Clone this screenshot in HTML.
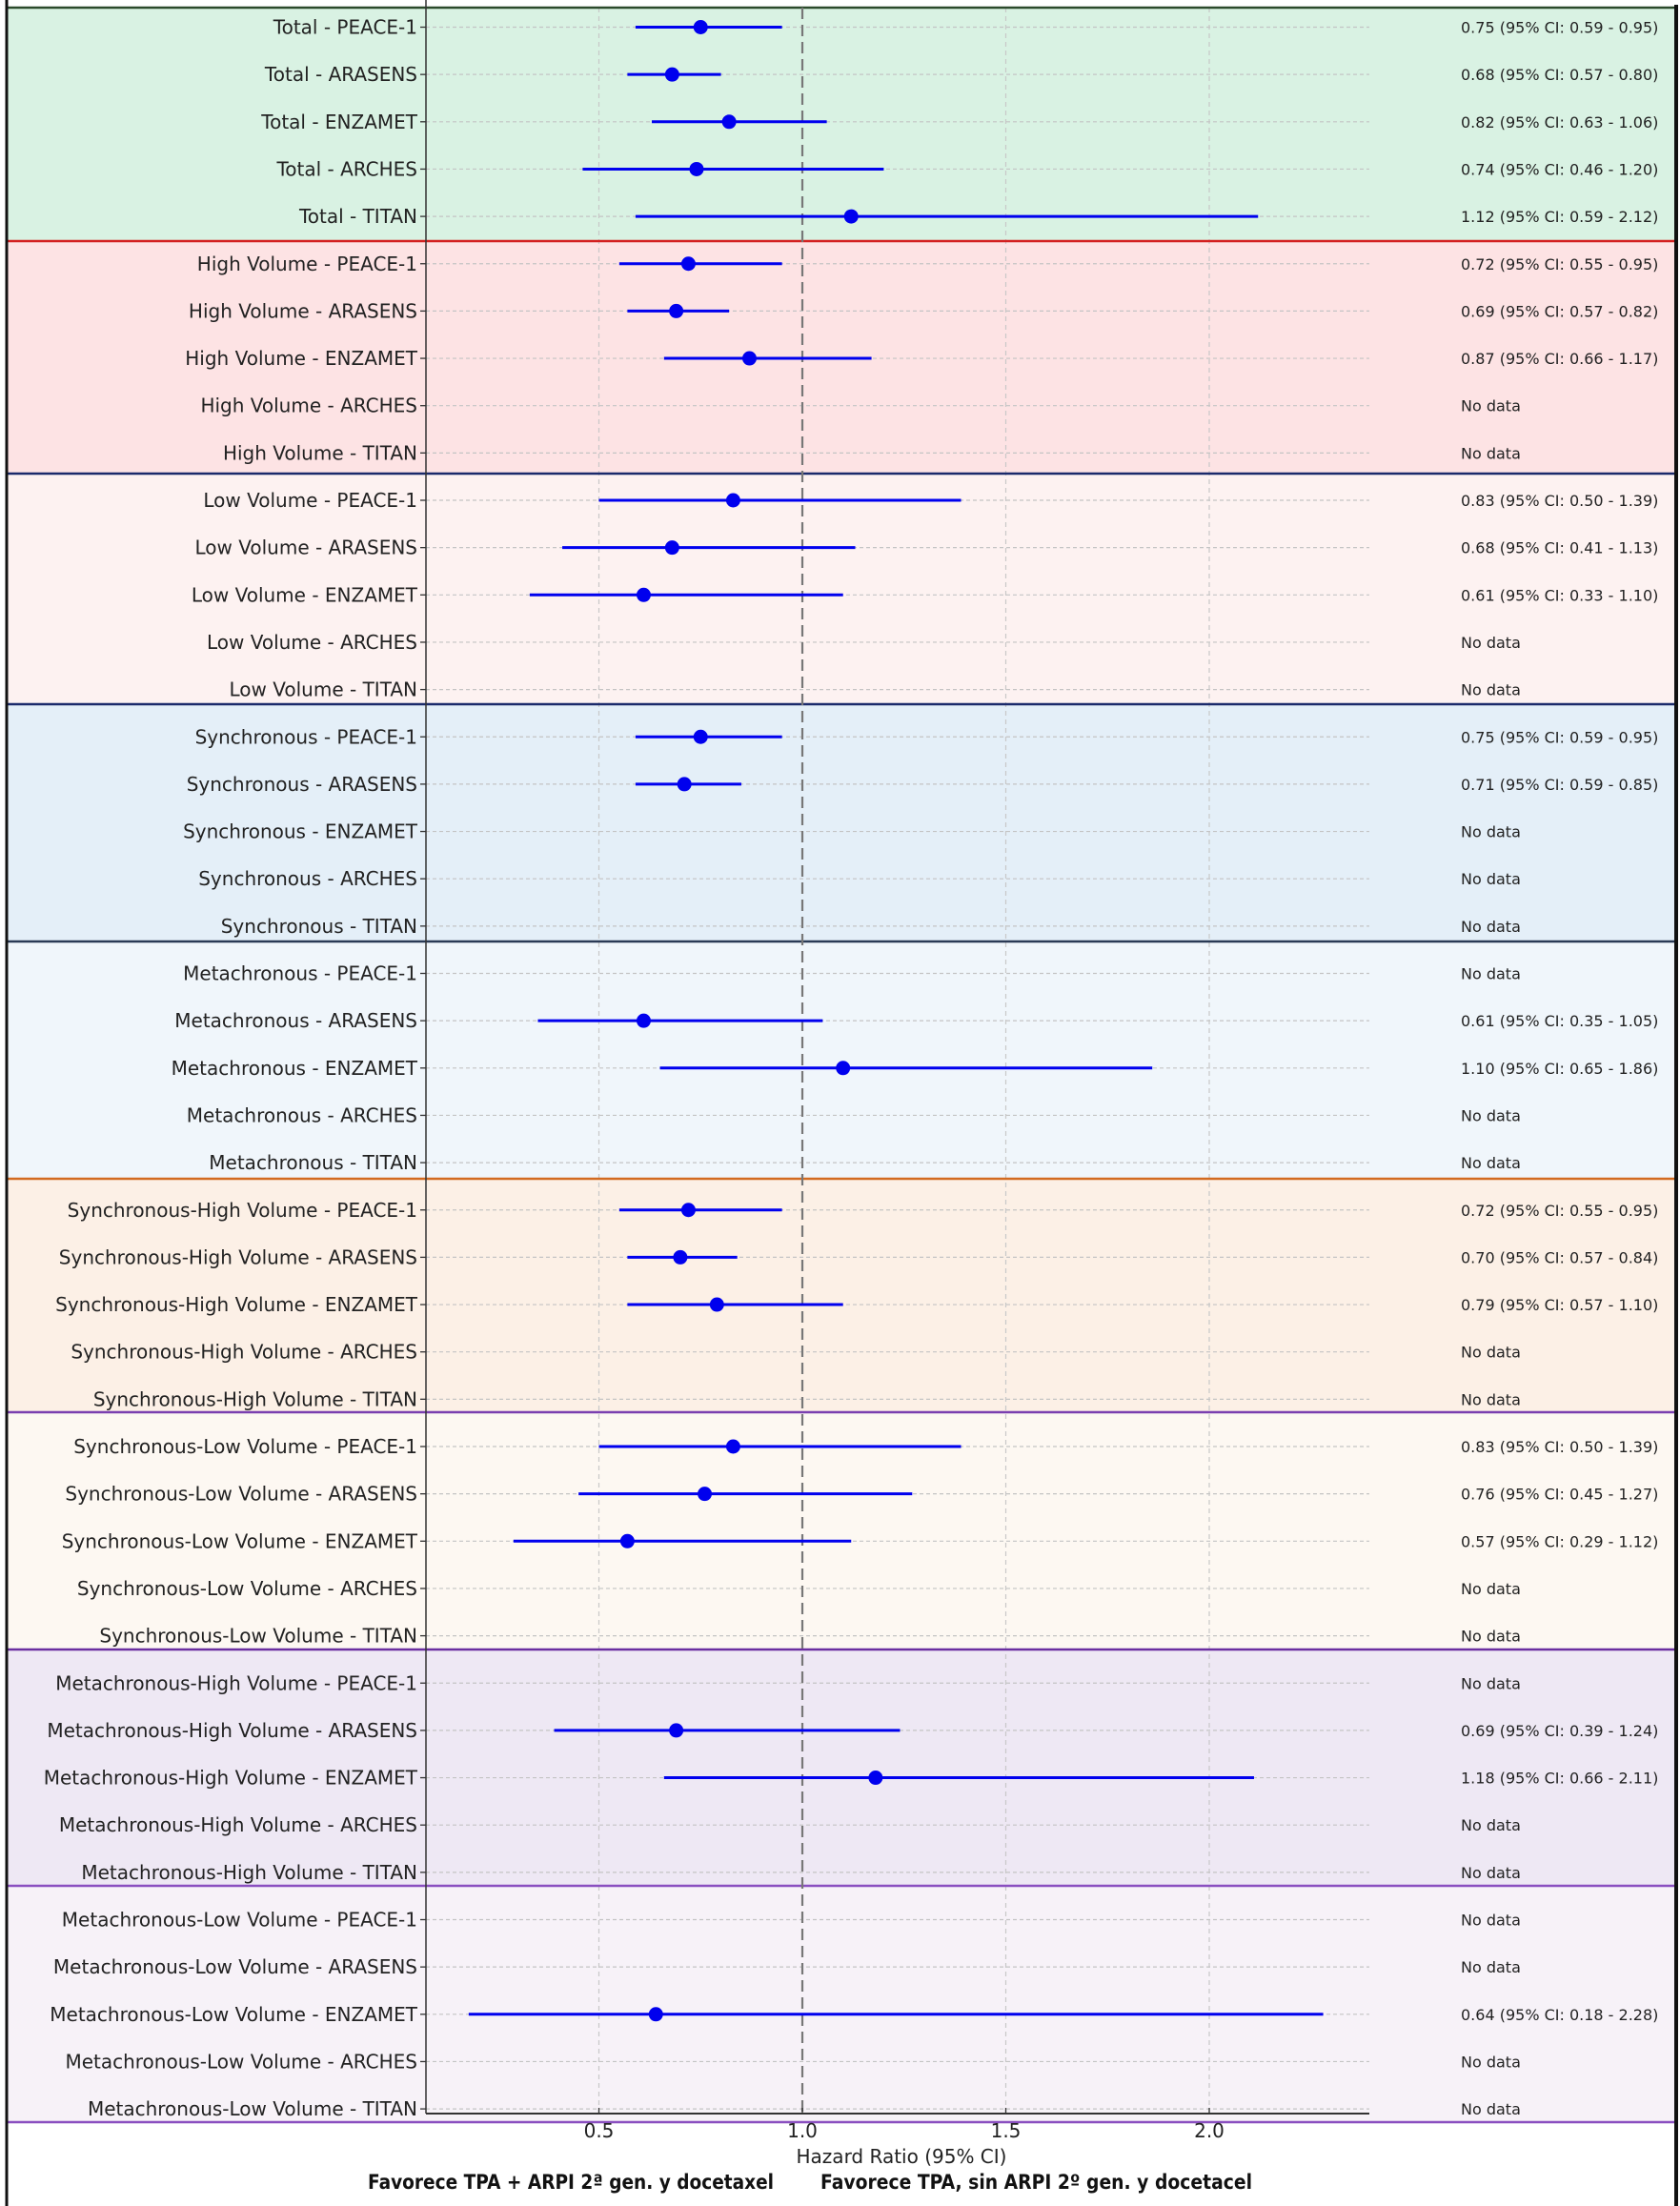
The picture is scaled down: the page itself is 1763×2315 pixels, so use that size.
<!DOCTYPE html>
<html><head><meta charset="utf-8"><style>
html,body{margin:0;padding:0;background:#fff}
svg{display:block}
text{font-family:"DejaVu Sans","Liberation Sans",sans-serif}
</style></head><body>
<svg id="chart" width="1763" height="2315" viewBox="0 0 1763 2315" xmlns="http://www.w3.org/2000/svg"></svg>
<script>
const groups = ["Total","High Volume","Low Volume","Synchronous","Metachronous","Synchronous-High Volume","Synchronous-Low Volume","Metachronous-High Volume","Metachronous-Low Volume"];
const trials = ["PEACE-1","ARASENS","ENZAMET","ARCHES","TITAN"];
const groupFills = ["#d9f2e3","#fde3e4","#fdf2f1","#e4eff8","#f0f6fb","#fcf0e6","#fdf8f2","#eee8f4","#f7f2f8"];
const groupBorders = ["#2b4a2b","#d42020","#1b2a6b","#1b2a6b","#2a3a55","#d26a20","#7a3fb0","#6a2ea0","#8a4fc0"];
const hr = [0.75,0.68,0.82,0.74,1.12, 0.72,0.69,0.87,null,null, 0.83,0.68,0.61,null,null, 0.75,0.71,null,null,null, null,0.61,1.10,null,null, 0.72,0.70,0.79,null,null, 0.83,0.76,0.57,null,null, null,0.69,1.18,null,null, null,null,0.64,null,null];
const ciLow = [0.59,0.57,0.63,0.46,0.59, 0.55,0.57,0.66,null,null, 0.50,0.41,0.33,null,null, 0.59,0.59,null,null,null, null,0.35,0.65,null,null, 0.55,0.57,0.57,null,null, 0.50,0.45,0.29,null,null, null,0.39,0.66,null,null, null,null,0.18,null,null];
const ciHigh = [0.95,0.80,1.06,1.20,2.12, 0.95,0.82,1.17,null,null, 1.39,1.13,1.10,null,null, 0.95,0.85,null,null,null, null,1.05,1.86,null,null, 0.95,0.84,1.10,null,null, 1.39,1.27,1.12,null,null, null,1.24,2.11,null,null, null,null,2.28,null,null];
const xTicks = [0.5,1.0,1.5,2.0];
const xTickLabels = ["0.5","1.0","1.5","2.0"];

const NS="http://www.w3.org/2000/svg";
const svg=document.getElementById('chart');
function mk(tag,attrs,parent){const e=document.createElementNS(NS,tag);for(const k in attrs)e.setAttribute(k,attrs[k]);(parent||svg).appendChild(e);return e;}
const AX_L=447, AX_R=1437;
function xs(v){return 842+(v-1)*427;}
function ys(i){return 28.5+i*49.65;}
const bounds=[8,253,497,739,988,1237,1482,1731,1979,2227];

groups.forEach((g,k)=>{
  const r=mk('rect',{x:8,y:bounds[k],width:1749,height:bounds[k+1]-bounds[k],fill:groupFills[k]});
  
  
});
xTicks.forEach((t,j)=>{
  if(t===1.0)return;
  const l=mk('line',{x1:xs(t),x2:xs(t),y1:8,y2:2218,stroke:'#c8c8c8','stroke-width':1.2,'stroke-dasharray':'5,4'});
  
  
});
const N=groups.length*trials.length;
for(let i=0;i<N;i++){
  const y=ys(i);
  const label=groups[Math.floor(i/5)]+' - '+trials[i%5];
  const gl=mk('line',{x1:AX_L,x2:AX_R,y1:y,y2:y,stroke:'#c4c4c4','stroke-width':1.2,'stroke-dasharray':'4,3'});
  
  
  mk('line',{x1:AX_L-6,x2:AX_L,y1:y,y2:y,stroke:'#333','stroke-width':1.3});
  const t=mk('text',{x:AX_L-9,y:y+7,'text-anchor':'end','font-size':20,fill:'#222'});
  t.textContent=label;
  
  
  const a=mk('text',{x:1533,y:y+6,'font-size':16,fill:'#222'});
  if(hr[i]==null){a.textContent='No data';}
  else{a.textContent=hr[i].toFixed(2)+' (95% CI: '+ciLow[i].toFixed(2)+' - '+ciHigh[i].toFixed(2)+')';}
  
  
}
bounds.forEach((b,k)=>{
  const c=k<groups.length?groupBorders[k]:groupBorders[groups.length-1];
  const l=mk('line',{x1:8,x2:1757,y1:b,y2:b,stroke:c,'stroke-width':2.5});
  
  
});
const ref=mk('line',{x1:xs(1),x2:xs(1),y1:8,y2:2218,stroke:'#777','stroke-width':2.2,'stroke-dasharray':'12,6'});


for(let i=0;i<N;i++){
  if(hr[i]==null)continue;
  const y=ys(i);
  const ci=mk('line',{x1:xs(ciLow[i]),x2:xs(ciHigh[i]),y1:y,y2:y,stroke:'#0000ee','stroke-width':3});
  
  
  const p=mk('circle',{cx:xs(hr[i]),cy:y,r:7.5,fill:'#0000ee'});
  
  
}
const ya=mk('line',{x1:AX_L,x2:AX_L,y1:0,y2:2218,stroke:'#333','stroke-width':1.5});


const xa=mk('line',{x1:AX_L,x2:AX_R,y1:2218,y2:2218,stroke:'#333','stroke-width':2});


xTicks.forEach((t,j)=>{
  mk('line',{x1:xs(t),x2:xs(t),y1:2212,y2:2218,stroke:'#333','stroke-width':1.3});
  const tl=mk('text',{x:xs(t),y:2243,'text-anchor':'middle','font-size':20,fill:'#222'});
  tl.textContent=xTickLabels[j];
  
  
});
const xt=mk('text',{x:946,y:2270,'text-anchor':'middle','font-size':20,fill:'#222'});
xt.textContent='Hazard Ratio (95% CI)';


const f1=mk('text',{x:386,y:2297,'font-size':21,'font-weight':'bold',fill:'#111',textLength:426,lengthAdjust:'spacingAndGlyphs'});
f1.textContent='Favorece TPA + ARPI 2ª gen. y docetaxel';


const f2=mk('text',{x:861,y:2297,'font-size':21,'font-weight':'bold',fill:'#111',textLength:453,lengthAdjust:'spacingAndGlyphs'});
f2.textContent='Favorece TPA, sin ARPI 2º gen. y docetacel';


const lb=mk('line',{x1:7,x2:7,y1:0,y2:2315,stroke:'#111','stroke-width':3});


const rb=mk('line',{x1:1759,x2:1759,y1:5,y2:2315,stroke:'#111','stroke-width':4});


</script>
</body></html>
